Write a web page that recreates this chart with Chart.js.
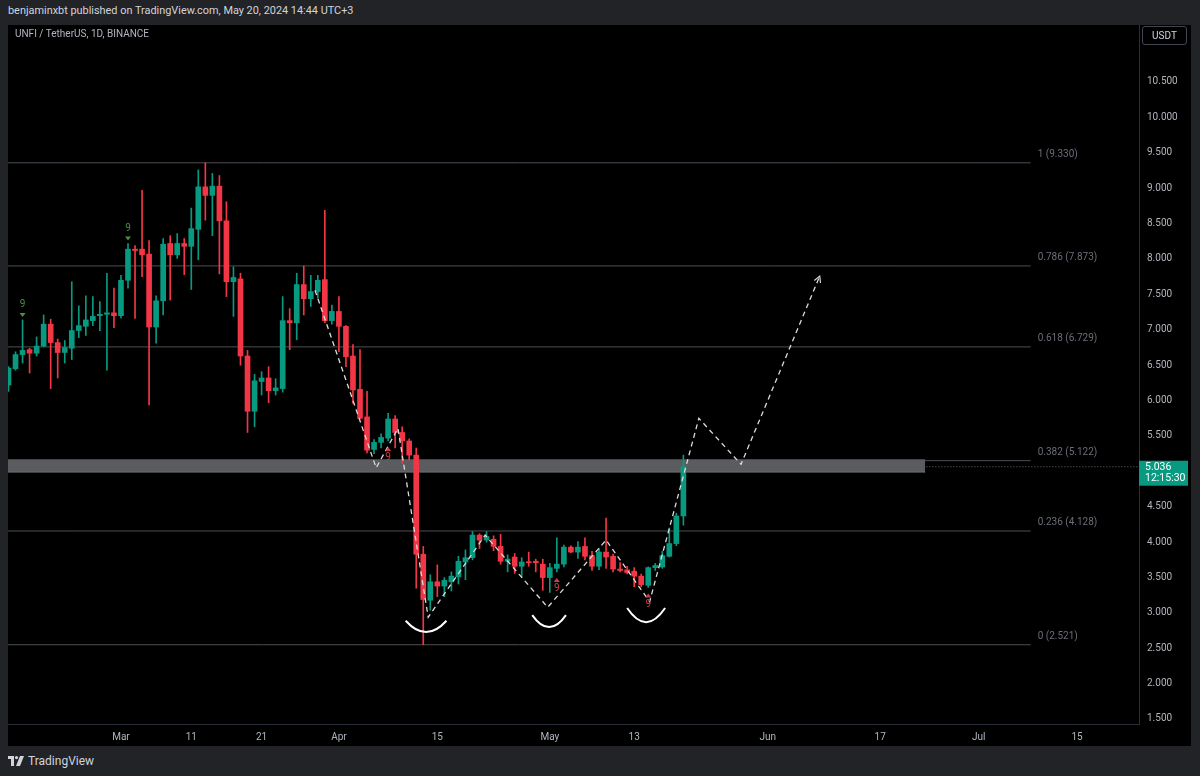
<!DOCTYPE html>
<html>
<head>
<meta charset="utf-8">
<script src="https://cdn.jsdelivr.net/npm/chart.js@4.4.1/dist/chart.umd.min.js"></script>
<style>
  body { margin: 0; width: 1200px; height: 776px; overflow: hidden; position: relative; background: #222327; font-family: Roboto, "Open Sans", sans-serif; }
  #top { position: absolute; left: 8px; top: 4px; font-size: 10.9px; color: #d1d4dc; white-space: nowrap; }
  #pane { position: absolute; left: 8px; top: 25px; width: 1183px; height: 721px; background: #000; }
  #chart { position: absolute; left: 0; top: 0; }
  #symbol { position: absolute; left: 7px; top: 3px; color: #b2b5be; font-size: 10px; white-space: nowrap; }
  #usdt { position: absolute; left: 1134px; top: 1px; width: 45px; height: 19px; box-sizing: border-box; border: 1px solid #434651; border-radius: 3px; color: #d1d4dc; font-size: 10px; line-height: 17px; text-align: center; }
  #brand { position: absolute; left: 8px; top: 754px; color: #d1d4dc; font-size: 12px; display: flex; align-items: center; gap: 4px; }
</style>
</head>
<body>
<div id="top">benjaminxbt published on TradingView.com, May 20, 2024 14:44 UTC+3</div>
<div id="pane">
  <canvas id="chart" width="1183" height="721"></canvas>
  <div id="symbol">UNFI / TetherUS, 1D, BINANCE</div>
  <div id="usdt">USDT</div>
</div>
<div id="brand">
  <svg width="16" height="10" viewBox="0 0 16 10"><rect x="0" y="0" width="6" height="3" fill="#d1d4dc"/><rect x="3" y="0" width="3" height="10" fill="#d1d4dc"/><circle cx="8.5" cy="1.6" r="1.6" fill="#d1d4dc"/><polygon points="12,0 16,0 12,10 8,10" fill="#d1d4dc"/></svg>
  <span>TradingView</span>
</div>
<script>
// daily candles, UNFI/USDT
const dates = [
  '2024-02-14','2024-02-15','2024-02-16','2024-02-17','2024-02-18','2024-02-19','2024-02-20','2024-02-21',
  '2024-02-22','2024-02-23','2024-02-24','2024-02-25','2024-02-26','2024-02-27','2024-02-28','2024-02-29',
  '2024-03-01','2024-03-02','2024-03-03','2024-03-04','2024-03-05','2024-03-06','2024-03-07','2024-03-08',
  '2024-03-09','2024-03-10','2024-03-11','2024-03-12','2024-03-13','2024-03-14','2024-03-15','2024-03-16',
  '2024-03-17','2024-03-18','2024-03-19','2024-03-20','2024-03-21','2024-03-22','2024-03-23','2024-03-24',
  '2024-03-25','2024-03-26','2024-03-27','2024-03-28','2024-03-29','2024-03-30','2024-03-31',
  '2024-04-01','2024-04-02','2024-04-03','2024-04-04','2024-04-05','2024-04-06','2024-04-07','2024-04-08',
  '2024-04-09','2024-04-10','2024-04-11','2024-04-12','2024-04-13','2024-04-14','2024-04-15','2024-04-16',
  '2024-04-17','2024-04-18','2024-04-19','2024-04-20','2024-04-21','2024-04-22','2024-04-23','2024-04-24',
  '2024-04-25','2024-04-26','2024-04-27','2024-04-28','2024-04-29','2024-04-30',
  '2024-05-01','2024-05-02','2024-05-03','2024-05-04','2024-05-05','2024-05-06','2024-05-07','2024-05-08',
  '2024-05-09','2024-05-10','2024-05-11','2024-05-12','2024-05-13','2024-05-14','2024-05-15','2024-05-16',
  '2024-05-17','2024-05-18','2024-05-19','2024-05-20'
];

const opens = [
  6.19, 6.42, 6.62, 6.69, 6.64, 6.74, 7.05, 6.79, 6.65, 6.71, 6.96, 7.02, 7.10, 7.17, 7.19, 7.21,
  7.17, 7.67, 8.11, 8.11, 8.04, 7.01, 7.38, 8.19, 8.03, 8.19, 8.15, 8.39, 8.99, 8.87, 9.00, 8.51,
  7.65, 7.69, 6.60, 5.82, 6.24, 6.29, 6.11, 6.14, 7.10, 7.07, 7.61, 7.41, 7.51, 7.68, 7.10,
  7.23, 7.02, 6.60, 6.13, 5.74, 5.28, 5.38, 5.44, 5.71, 5.52, 5.40, 5.20, 3.80, 3.15, 3.41, 3.35,
  3.41, 3.48, 3.69, 3.75, 4.07, 4.00, 4.01, 3.91, 3.70, 3.76, 3.63, 3.69, 3.70, 3.66,
  3.47, 3.60, 3.66, 3.90, 3.83, 3.91, 3.78, 3.63, 3.83, 3.77, 3.59, 3.58, 3.56, 3.49, 3.36, 3.61,
  3.62, 3.77, 3.95, 4.34
];
const highs = [
  6.45, 6.66, 7.11, 6.71, 6.87, 7.18, 7.12, 6.84, 6.82, 7.65, 7.31, 7.45, 7.44, 7.37, 7.77, 7.56,
  7.74, 8.19, 8.16, 8.94, 8.23, 7.45, 8.26, 8.30, 8.33, 8.26, 8.69, 9.23, 9.33, 9.18, 9.15, 8.78,
  7.86, 7.77, 6.68, 6.34, 6.38, 6.45, 6.28, 7.44, 7.27, 7.77, 7.87, 7.74, 7.74, 8.66, 7.32,
  7.44, 7.03, 6.76, 6.69, 6.10, 5.42, 5.50, 5.79, 5.76, 5.60, 5.43, 5.30, 3.91, 3.51, 3.65, 3.47,
  3.55, 3.77, 3.86, 4.12, 4.09, 4.12, 4.06, 4.08, 3.79, 3.81, 3.75, 3.83, 3.73, 3.73,
  3.67, 4.03, 3.93, 3.92, 3.98, 4.03, 3.84, 3.88, 4.31, 3.80, 3.68, 3.63, 3.61, 3.52, 3.62, 3.67,
  3.84, 4.17, 4.38, 5.20
];
const lows = [
  6.10, 6.40, 6.50, 6.36, 6.60, 6.73, 6.14, 6.29, 6.50, 6.55, 6.86, 6.89, 7.03, 6.96, 6.40, 7.00,
  7.14, 7.56, 7.13, 7.72, 5.91, 6.78, 7.18, 7.39, 7.98, 7.75, 7.54, 7.96, 8.52, 8.30, 7.76, 7.44,
  7.16, 6.47, 5.52, 5.60, 6.05, 5.94, 6.05, 6.09, 6.69, 6.83, 7.18, 7.30, 7.42, 7.07, 7.05,
  6.66, 6.45, 5.93, 5.71, 5.23, 5.22, 5.30, 5.40, 5.30, 5.08, 5.13, 3.32, 2.521, 3.01, 3.20, 3.20,
  3.28, 3.38, 3.44, 3.72, 3.88, 3.97, 3.85, 3.66, 3.55, 3.53, 3.48, 3.63, 3.55, 3.29,
  3.26, 3.55, 3.62, 3.82, 3.74, 3.72, 3.57, 3.58, 3.60, 3.55, 3.55, 3.52, 3.34, 3.34, 3.33, 3.57,
  3.60, 3.76, 3.92, 4.21
];
const closes = [
  6.43, 6.62, 6.68, 6.64, 6.74, 7.05, 6.79, 6.65, 6.72, 6.96, 7.03, 7.11, 7.16, 7.19, 7.21, 7.17,
  7.67, 8.11, 8.09, 8.03, 7.01, 7.38, 8.18, 8.03, 8.19, 8.15, 8.40, 8.99, 8.87, 9.00, 8.51, 7.65,
  7.71, 6.60, 5.82, 6.25, 6.29, 6.11, 6.15, 7.10, 7.07, 7.61, 7.41, 7.51, 7.67, 7.10, 7.23,
  7.02, 6.59, 6.12, 5.72, 5.27, 5.38, 5.45, 5.71, 5.52, 5.40, 5.20, 3.80, 3.16, 3.41, 3.35, 3.43,
  3.49, 3.70, 3.75, 4.07, 4.00, 4.05, 3.91, 3.70, 3.73, 3.63, 3.69, 3.68, 3.68, 3.47,
  3.61, 3.66, 3.90, 3.83, 3.90, 3.77, 3.63, 3.83, 3.76, 3.59, 3.57, 3.54, 3.49, 3.37, 3.61, 3.64,
  3.78, 3.95, 4.34, 5.036
];

// axis ticks
const priceTicks = [1.5, 2, 2.5, 3, 3.5, 4, 4.5, 5, 5.5, 6, 6.5, 7, 7.5, 8, 8.5, 9, 9.5, 10, 10.5];
const dateTicks = ['2024-03-01','2024-03-11','2024-03-21','2024-04-01','2024-04-15','2024-05-01',
                   '2024-05-13','2024-06-01','2024-06-17','2024-07-01','2024-07-15'];
const dateTickLabels = ['Mar', '11', '21', 'Apr', '15', 'May', '13', 'Jun', '17', 'Jul', '15'];

// fib retracement
const fibLevels = [1, 0.786, 0.618, 0.382, 0.236, 0];
const fibPrices = [9.330, 7.873, 6.729, 5.122, 4.128, 2.521];

// drawn zigzag path (days since Mar 1, price)
const zigDays   = [27.6, 36.3, 39.4, 43.7, 51.8, 60.7, 69.0, 75.2, 82.2, 88.2, 99.4];
const zigPrices = [7.53, 5.02, 5.58, 2.91, 4.07, 3.05, 4.00, 3.13, 5.72, 5.07, 7.73];

// grey support zone
const zoneTop = 5.14;
const zoneBottom = 4.96;
const zoneEndDay = 114.4;

// white "bowl" marks under the three lows: centre day, top price, bottom price, half width (days)
const bowlDays = [43.4, 60.9, 74.7];
const bowlTops = [2.86, 2.94, 3.04];
const bowlBottoms = [2.70, 2.77, 2.84];
const bowlHalfWidths = [2.9, 2.4, 2.7];

// TD "9" marks
const nineUpDates = ['2024-02-16', '2024-03-02'];
const nineDownDates = ['2024-04-08', '2024-05-02', '2024-05-15'];

const lastPrice = 5.036;
const countdown = '12:15:30';
const fibEndDay = 129.4;

const X_MIN = -16.07;
const X_MAX = 144.81;
const Y_MIN = 1.401;
const Y_MAX = 11.277;

const DAY0 = Date.UTC(2024, 2, 1);
const toDay = s => (Date.parse(s + 'T00:00:00Z') - DAY0) / 864e5;

const UP = '#089981';
const DOWN = '#f23645';
const AXIS_TEXT = '#b2b5be';
const FONT = 'Roboto, "Open Sans", sans-serif';

const candleX = dates.map(toDay);
const candleColors = opens.map((o, i) => closes[i] >= o ? UP : DOWN);

const bodies = candleX.map((x, i) => ({ x, y: [opens[i], closes[i]] }));
const wicks = candleX.map((x, i) => ({ x, y: [lows[i], highs[i]] }));
const zigzag = zigDays.map((x, i) => ({ x, y: zigPrices[i] }));

const fibSets = fibPrices.map(p => ({
  type: 'line',
  data: [{ x: X_MIN, y: p }, { x: fibEndDay, y: p }],
  borderColor: '#4d4f55',
  borderWidth: 1,
  pointRadius: 0,
  order: 6
}));

const overlay = {
  id: 'overlay',
  afterDatasetsDraw(chart) {
    const { ctx, scales: { x, y }, chartArea } = chart;
    ctx.save();

    // fib labels
    ctx.font = '10px ' + FONT;
    ctx.fillStyle = '#6b6e78';
    ctx.textAlign = 'left';
    ctx.textBaseline = 'middle';
    fibLevels.forEach((lvl, i) => {
      ctx.fillText(lvl + ' (' + fibPrices[i].toFixed(3) + ')', x.getPixelForValue(130.4), y.getPixelForValue(fibPrices[i]) - 8.5);
    });

    // bowls
    ctx.strokeStyle = '#ffffff';
    ctx.lineWidth = 2;
    bowlDays.forEach((d, i) => {
      const l = x.getPixelForValue(d - bowlHalfWidths[i]);
      const r = x.getPixelForValue(d + bowlHalfWidths[i]);
      const t = y.getPixelForValue(bowlTops[i]);
      const b = y.getPixelForValue(bowlBottoms[i]);
      ctx.beginPath();
      ctx.moveTo(l, t);
      ctx.quadraticCurveTo((l + r) / 2, 2 * b - t, r, t);
      ctx.stroke();
    });

    // arrow head at the end of the projection
    const n = zigDays.length;
    const ex = x.getPixelForValue(zigDays[n - 1]), ey = y.getPixelForValue(zigPrices[n - 1]);
    const px = x.getPixelForValue(zigDays[n - 2]), py = y.getPixelForValue(zigPrices[n - 2]);
    const ang = Math.atan2(ey - py, ex - px);
    ctx.strokeStyle = '#d8d8d8';
    ctx.lineWidth = 1.2;
    ctx.beginPath();
    ctx.moveTo(ex - 7 * Math.cos(ang - 0.5), ey - 7 * Math.sin(ang - 0.5));
    ctx.lineTo(ex, ey);
    ctx.lineTo(ex - 7 * Math.cos(ang + 0.5), ey - 7 * Math.sin(ang + 0.5));
    ctx.stroke();

    // TD 9 marks
    ctx.font = '10px ' + FONT;
    ctx.textAlign = 'center';
    nineUpDates.forEach(s => {
      const i = dates.indexOf(s);
      const cx = x.getPixelForValue(candleX[i]);
      const top = y.getPixelForValue(highs[i]) - 3;
      ctx.fillStyle = '#4b8f45';
      ctx.beginPath();
      ctx.moveTo(cx - 3, top - 4); ctx.lineTo(cx + 3, top - 4); ctx.lineTo(cx, top); ctx.closePath();
      ctx.fill();
      ctx.fillText('9', cx, top - 12);
    });
    nineDownDates.forEach(s => {
      const i = dates.indexOf(s);
      const cx = x.getPixelForValue(candleX[i]);
      const bot = y.getPixelForValue(lows[i]) + 6;
      ctx.fillStyle = '#c9404a';
      ctx.beginPath();
      ctx.moveTo(cx - 3, bot + 4); ctx.lineTo(cx + 3, bot + 4); ctx.lineTo(cx, bot); ctx.closePath();
      ctx.fill();
      ctx.fillText('9', cx, bot + 11);
    });

    // last price tag on the axis
    const ly = y.getPixelForValue(lastPrice);
    ctx.fillStyle = UP;
    ctx.fillRect(chartArea.right, ly - 6, 49, 25);
    ctx.fillStyle = '#ffffff';
    ctx.textAlign = 'left';
    ctx.font = '10.5px ' + FONT;
    ctx.fillText(lastPrice.toFixed(3), chartArea.right + 6, ly + 1);
    ctx.fillText(countdown, chartArea.right + 6, ly + 12);
    ctx.restore();
  }
};

new Chart(document.getElementById('chart'), {
  type: 'bar',
  data: {
    datasets: [
      { type: 'bar', data: bodies, backgroundColor: candleColors, barThickness: 5, minBarLength: 1, grouped: false, order: 1 },
      { type: 'bar', data: wicks, backgroundColor: candleColors, barThickness: 1, grouped: false, order: 2 },
      { type: 'line', data: zigzag, borderColor: '#dcdcdc', borderWidth: 1.3, borderDash: [5, 4], pointRadius: 0, order: 0 },
      {
        type: 'line',
        data: [{ x: X_MIN, y: zoneBottom }, { x: zoneEndDay, y: zoneBottom }],
        borderColor: '#6e6f73', borderWidth: 1, pointRadius: 0,
        fill: { value: zoneTop }, backgroundColor: '#5b5c60', order: 4
      },
      {
        type: 'line',
        data: [{ x: candleX[candleX.length - 1], y: lastPrice }, { x: X_MAX, y: lastPrice }],
        borderColor: '#5f6b69', borderWidth: 1, borderDash: [1, 2], pointRadius: 0, order: 5
      },
      ...fibSets
    ]
  },
  options: {
    responsive: false,
    devicePixelRatio: 1,
    animation: false,
    layout: { padding: 0 },
    plugins: { legend: { display: false }, tooltip: { enabled: false } },
    scales: {
      x: {
        type: 'linear',
        min: X_MIN,
        max: X_MAX,
        offset: false,
        grid: { display: false, drawTicks: false },
        border: { display: true, color: '#2a2e39' },
        ticks: {
          color: AXIS_TEXT,
          font: { family: FONT, size: 10 },
          padding: 7,
          maxRotation: 0,
          autoSkip: false,
          callback: (v, i) => dateTickLabels[i]
        },
        afterBuildTicks: s => { s.ticks = dateTicks.map(d => ({ value: toDay(d) })); },
        afterFit: s => { s.height = 22; s.paddingLeft = 0; s.paddingRight = 0; }
      },
      y: {
        type: 'linear',
        position: 'right',
        min: Y_MIN,
        max: Y_MAX,
        grid: { display: false, drawTicks: false },
        border: { display: true, color: '#2a2e39' },
        ticks: {
          color: AXIS_TEXT,
          font: { family: FONT, size: 10 },
          padding: 8,
          labelOffset: 2,
          callback: v => Number(v).toFixed(3)
        },
        afterBuildTicks: s => { s.ticks = priceTicks.map(v => ({ value: v })); },
        afterFit: s => { s.width = 52; s.paddingTop = 0; s.paddingBottom = 0; }
      }
    }
  },
  plugins: [overlay]
});
</script>
</body>
</html>
